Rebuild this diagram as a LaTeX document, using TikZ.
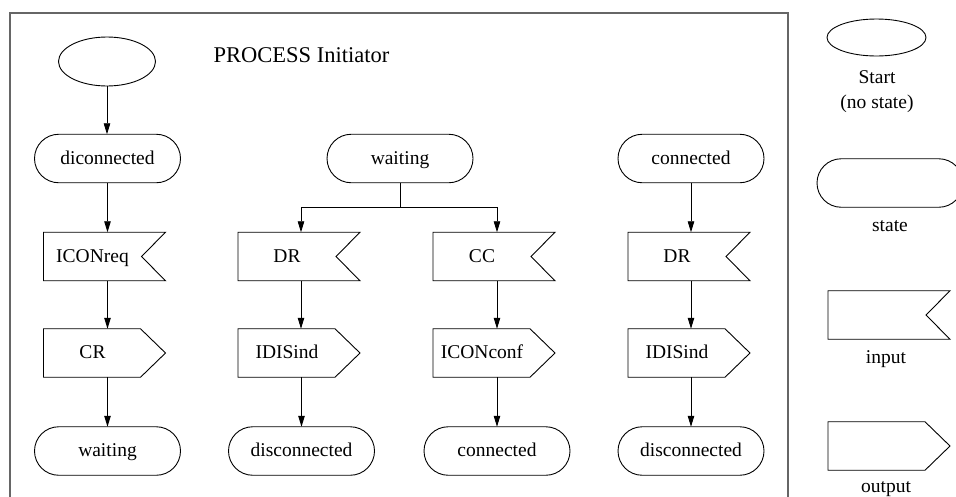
\documentclass[tikz,border=0pt]{standalone}
\usepackage{fontspec}
\setmainfont{Liberation Serif}
\usetikzlibrary{shapes.geometric,shapes.misc,arrows.meta}

% label text of the flag shapes: centred in the body, the pointer part kept free
\newcommand\flagtext[1]{\makebox[98pt]{#1}\hspace*{24pt}}

\tikzset{
  lbl/.style={font=\fontsize{19.5}{25}\selectfont},
  boxtext/.style={lbl, text height=14pt, text depth=3pt},
  shapeline/.style={draw=black, line width=0.9pt},
  startbox/.style={ellipse, shapeline, lbl, inner sep=0pt, outer sep=0pt},
  statebox/.style={rounded rectangle, shapeline, boxtext, minimum width=146pt,
    minimum height=48.5pt, inner sep=0pt, outer sep=0pt},
  inbox/.style={rectangle, boxtext, minimum width=122pt, minimum height=48.5pt,
    inner sep=0pt, outer sep=0pt,
    append after command={\pgfextra{
      \draw[shapeline] (\tikzlastnode.north west) -- (\tikzlastnode.north east)
        -- ([xshift=-24pt]\tikzlastnode.east) -- (\tikzlastnode.south east)
        -- (\tikzlastnode.south west) -- cycle;}}},
  outbox/.style={rectangle, boxtext, minimum width=122pt, minimum height=48.5pt,
    inner sep=0pt, outer sep=0pt,
    append after command={\pgfextra{
      \draw[shapeline] (\tikzlastnode.north west) -- ([xshift=-25pt]\tikzlastnode.north east)
        -- (\tikzlastnode.east) -- ([xshift=-25pt]\tikzlastnode.south east)
        -- (\tikzlastnode.south west) -- cycle;}}},
  arr/.style={line width=0.9pt, -{Triangle[length=11pt,width=6.5pt]}},
  link/.style={line width=0.9pt},
  frameline/.style={draw=black!60, line width=1.3pt},
}

\begin{document}
\begin{tikzpicture}[x=1pt,y=-1pt]
\useasboundingbox (0,0) rectangle (956,496);

% process frame (open at the bottom edge of the page)
\draw[frameline] (10,505) -- (10,13) -- (788,13) -- (788,505);
\node[font=\fontsize{22.5}{26}\selectfont] (title) at (301.5,55) {PROCESS Initiator};

% column 1
\node[startbox, minimum width=97pt, minimum height=49pt] (start) at (107,61.5) {};
\node[statebox] (s1) at (107.5,158.5) {diconnected};
\node[inbox] (in1) at (104.5,256.5) {\flagtext{ICONreq}};
\node[outbox] (out1) at (104.5,353) {\flagtext{CR}};
\node[statebox] (e1) at (107.5,451) {waiting};

% columns 2 and 3, sharing the waiting state
\node[statebox] (s2) at (400,158.5) {waiting};
\node[inbox] (in2) at (299,256.5) {\flagtext{DR}};
\node[outbox] (out2) at (299,353) {\flagtext{IDISind}};
\node[statebox] (e2) at (301.5,451) {disconnected};
\node[inbox] (in3) at (494,256.5) {\flagtext{CC}};
\node[outbox] (out3) at (494,353) {\flagtext{ICONconf}};
\node[statebox] (e3) at (497,451) {connected};

% column 4
\node[statebox] (s4) at (691,158.5) {connected};
\node[inbox] (in4) at (689,256.5) {\flagtext{DR}};
\node[outbox] (out4) at (689,353) {\flagtext{IDISind}};
\node[statebox] (e4) at (691,451) {disconnected};

% connectors
\draw[arr] (start.south) -- (start.south |- s1.north);
\draw[arr] (s1.south) -- (s1.south |- in1.north);
\draw[arr] (s1.south |- in1.south) -- (s1.south |- out1.north);
\draw[arr] (e1.north |- out1.south) -- (e1.north);

\coordinate (forkL) at (301,207);
\coordinate (forkR) at (497,207);
\draw[link] (s2.south) -- (s2.south |- forkL);
\draw[link] (forkL) -- (forkR);
\draw[arr] (forkL) -- (forkL |- in2.north);
\draw[arr] (forkR) -- (forkR |- in3.north);
\draw[arr] (forkL |- in2.south) -- (forkL |- out2.north);
\draw[arr] (e2.north |- out2.south) -- (e2.north);
\draw[arr] (forkR |- in3.south) -- (forkR |- out3.north);
\draw[arr] (e3.north |- out3.south) -- (e3.north);

\draw[arr] (s4.south) -- (s4.south |- in4.north);
\draw[arr] (s4.south |- in4.south) -- (s4.south |- out4.north);
\draw[arr] (e4.north |- out4.south) -- (e4.north);

% legend
\node[startbox, minimum width=99pt, minimum height=37pt] (lgstart) at (876.5,37.5) {};
\node[lbl, align=center] (lgstarttxt) at (877,92) {Start\\(no state)};
\node[statebox] (lgstate) at (890,183) {};
\node[lbl] (lgstatetxt) at (890,226) {state};
\node[inbox] (lgin) at (889,315) {};
\node[lbl] (lgintxt) at (886,359) {input};
\node[outbox] (lgout) at (889,446) {};
\node[lbl] (lgouttxt) at (886,489) {output};
\end{tikzpicture}
\end{document}
